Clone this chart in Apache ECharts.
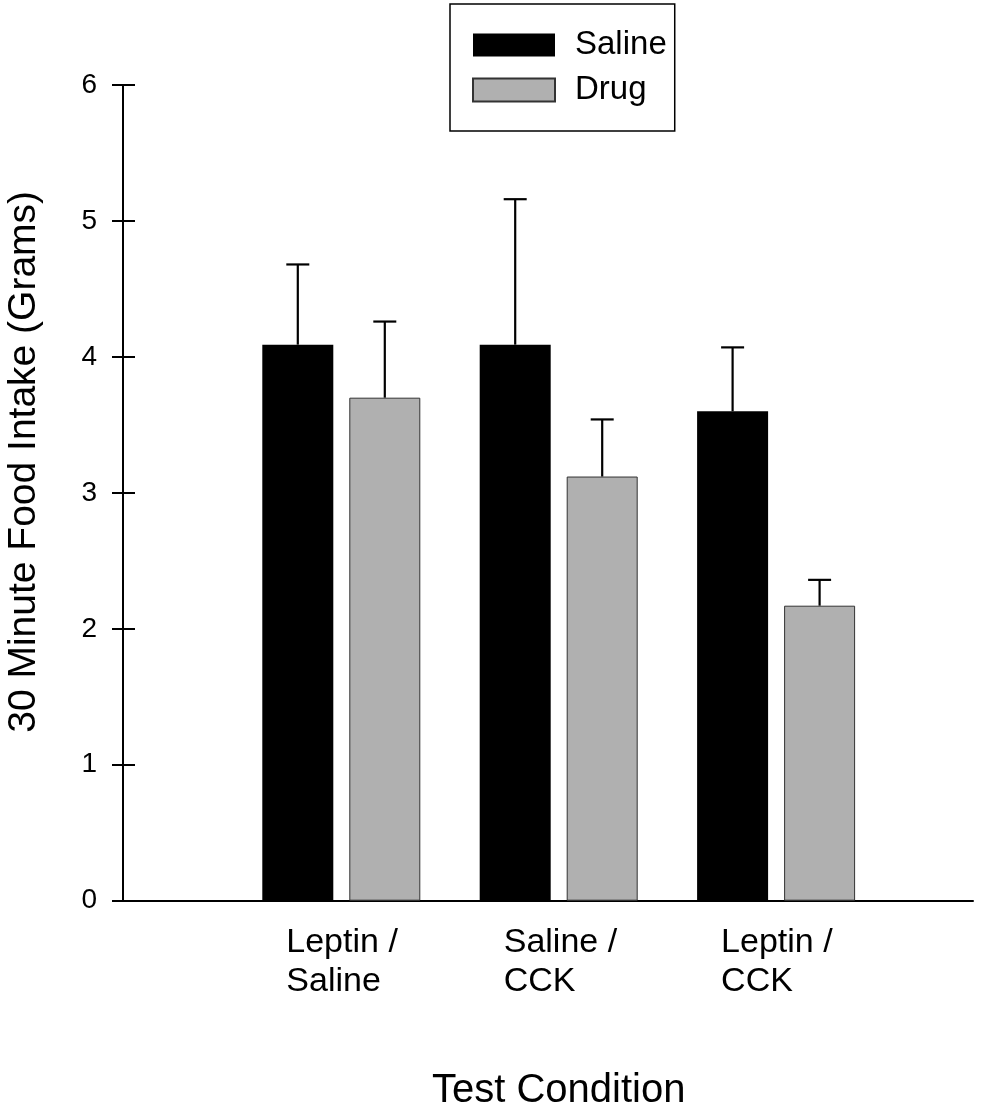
<!DOCTYPE html>
<html>
<head>
<meta charset="utf-8">
<script src="https://cdn.jsdelivr.net/npm/echarts@6/dist/echarts.min.js"></script>
<style>
  html, body { margin: 0; padding: 0; background: #fff; }
  #chart { width: 989px; height: 1109px; }
</style>
</head>
<body>
<div id="chart"></div>
<script>
// ---- data ----
const categories = ['Leptin /\nSaline', 'Saline /\nCCK', 'Leptin /\nCCK'];
const seriesNames = ['Saline', 'Drug'];
const salineMeans = [4.09, 4.09, 3.60];
const salineErr = [0.59, 1.07, 0.47];
const drugMeans = [3.70, 3.12, 2.17];
const drugErr = [0.56, 0.42, 0.19];
const yMin = 0, yMax = 6, yInterval = 1;

// ---- style ----
const FONT = "'Liberation Sans', Arial, sans-serif";
const BAR_W = 71;
const BAR_GAP_PX = 16;
const OFFSET = (BAR_W + BAR_GAP_PX) / 2;
const CAP_W = 23;

function errSeries(name, means, errs, side) {
  return {
    type: 'custom',
    name: name + ' error',
    xAxisIndex: 1,
    yAxisIndex: 2,
    z: 5,
    silent: true,
    data: means.map((m, i) => [i, m, errs[i]]),
    renderItem: function (params, api) {
      const base = api.coord([api.value(0), api.value(1)]);
      const top = api.coord([api.value(0), api.value(1) + api.value(2)]);
      const x = base[0] + side * OFFSET;
      const st = { stroke: '#000', lineWidth: 2.2 };
      return {
        type: 'group',
        children: [
          { type: 'line', shape: { x1: x, y1: base[1], x2: x, y2: top[1] }, style: st },
          { type: 'line', shape: { x1: x - CAP_W / 2, y1: top[1], x2: x + CAP_W / 2, y2: top[1] }, style: st }
        ]
      };
    }
  };
}

const chart = echarts.init(document.getElementById('chart'), null, { renderer: 'canvas' });
chart.setOption({
  backgroundColor: '#fff',
  animation: false,
  textStyle: { fontFamily: FONT, color: '#000' },
  legend: {
    orient: 'vertical',
    left: 450,
    top: 4,
    data: seriesNames,
    icon: 'rect',
    itemWidth: 82,
    itemHeight: 23,
    itemGap: 11,
    padding: [24, 8, 24, 22],
    borderColor: '#000',
    borderWidth: 1.5,
    selectedMode: false,
    textStyle: { fontFamily: FONT, fontSize: 33, lineHeight: 34, color: '#000', padding: [0, 0, 0, 15] }
  },
  grid: [
    { left: 123, right: 16, top: 85, bottom: 208.3, outerBoundsMode: 'none', containLabel: false },
    { left: 232.6, right: 104.2, top: 85, bottom: 208.3, outerBoundsMode: 'none', containLabel: false }
  ],
  xAxis: [
    {
      type: 'value', gridIndex: 0, min: 0, max: 1, position: 'bottom',
      axisLine: { show: true, onZero: false, lineStyle: { color: '#000', width: 2 } },
      axisTick: { show: false }, axisLabel: { show: false }, splitLine: { show: false }
    },
    {
      type: 'category', gridIndex: 1, data: categories, position: 'bottom',
      axisLine: { show: false, onZero: false }, axisTick: { show: false }, splitLine: { show: false },
      axisLabel: {
        margin: 22,
        formatter: function (v) {
          return v.split('\n').map(s => '{a|' + s + '}').join('\n');
        },
        rich: {
          a: { fontFamily: FONT, fontSize: 34, lineHeight: 39, width: 110, align: 'left', color: '#000' }
        }
      },
      name: 'Test Condition',
      nameLocation: 'middle',
      nameGap: 170,
      nameTextStyle: { fontFamily: FONT, fontSize: 40, lineHeight: 40, color: '#000' }
    }
  ],
  yAxis: [
    {
      type: 'value', gridIndex: 0, min: yMin, max: yMax, interval: yInterval, position: 'left',
      axisLine: { show: true, lineStyle: { color: '#000', width: 2 } },
      axisTick: { show: true, inside: false, length: 11, lineStyle: { color: '#000', width: 2 } },
      axisLabel: { margin: 26, fontFamily: FONT, fontSize: 28, color: '#000' },
      splitLine: { show: false },
      name: '30 Minute Food Intake (Grams)',
      nameLocation: 'middle',
      nameGap: 79,
      nameTextStyle: { fontFamily: FONT, fontSize: 39, lineHeight: 39, color: '#000', padding: [0, 0, 0, 62] }
    },
    {
      type: 'value', gridIndex: 0, min: yMin, max: yMax, interval: yInterval, position: 'left', offset: 0,
      axisLine: { show: false },
      axisTick: { show: true, inside: true, length: 12, lineStyle: { color: '#000', width: 2 } },
      axisLabel: { show: false },
      splitLine: { show: false }
    },
    {
      type: 'value', gridIndex: 1, min: yMin, max: yMax, interval: yInterval, show: false
    }
  ],
  series: [
    {
      type: 'bar', name: seriesNames[0], xAxisIndex: 1, yAxisIndex: 2,
      data: salineMeans, barWidth: BAR_W, barGap: (BAR_GAP_PX / BAR_W * 100) + '%',
      itemStyle: { color: '#000' }
    },
    {
      type: 'bar', name: seriesNames[1], xAxisIndex: 1, yAxisIndex: 2,
      data: drugMeans, barWidth: BAR_W, barGap: (BAR_GAP_PX / BAR_W * 100) + '%',
      itemStyle: { color: '#b0b0b0', borderColor: '#333', borderWidth: 1 }
    },
    errSeries(seriesNames[0], salineMeans, salineErr, -1),
    errSeries(seriesNames[1], drugMeans, drugErr, 1)
  ]
});
</script>
</body>
</html>
